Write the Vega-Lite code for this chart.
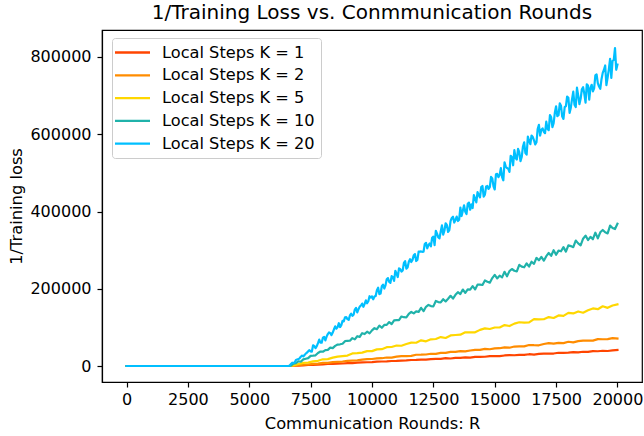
{
"$schema": "https://vega.github.io/schema/vega-lite/v6.json",
"width": 540, "height": 352,
"autosize": "none",
"padding": {"left": 102, "top": 30, "right": 2, "bottom": 54},
"background": "white",
"title": {"text": "1/Training Loss vs. Conmmunication Rounds", "fontSize": 20, "font": "DejaVu Sans", "fontWeight": "normal", "color": "black", "baseline": "alphabetic", "offset": 8, "dy": 17, "anchor": "middle"},
"config": {
  "font": "DejaVu Sans",
  "view": {"stroke": "black", "strokeWidth": 1.2},
  "axis": {"domainColor": "black", "domainWidth": 1.2, "tickColor": "black", "tickWidth": 1.2, "tickSize": 5, "labelColor": "black", "labelFontSize": 16, "labelFont": "DejaVu Sans", "titleFont": "DejaVu Sans", "titleFontSize": 16.3, "titleFontWeight": "normal", "titleColor": "black", "grid": false, "labelOverlap": false, "labelFlush": false}
},
"data": {"values": [
{"k":1,"r":0,"v":0},{"k":1,"r":6600,"v":0},{"k":1,"r":6800,"v":770},{"k":1,"r":7000,"v":1220},{"k":1,"r":7200,"v":1630},{"k":1,"r":7400,"v":2760},{"k":1,"r":7600,"v":3010},{"k":1,"r":7800,"v":3340},{"k":1,"r":8000,"v":4470},{"k":1,"r":8200,"v":5280},{"k":1,"r":8400,"v":5370},{"k":1,"r":8600,"v":6180},{"k":1,"r":8800,"v":6470},{"k":1,"r":9000,"v":7600},{"k":1,"r":9200,"v":7570},{"k":1,"r":9400,"v":8660},{"k":1,"r":9600,"v":9390},{"k":1,"r":9800,"v":9680},{"k":1,"r":10000,"v":10090},{"k":1,"r":10200,"v":11340},{"k":1,"r":10400,"v":11630},{"k":1,"r":10600,"v":12040},{"k":1,"r":10800,"v":12970},{"k":1,"r":11000,"v":13100},{"k":1,"r":11200,"v":14150},{"k":1,"r":11400,"v":14400},{"k":1,"r":11600,"v":15570},{"k":1,"r":11800,"v":15780},{"k":1,"r":12000,"v":16670},{"k":1,"r":12200,"v":16720},{"k":1,"r":12400,"v":17730},{"k":1,"r":12600,"v":18580},{"k":1,"r":12800,"v":18550},{"k":1,"r":13000,"v":20330},{"k":1,"r":13200,"v":19500},{"k":1,"r":13400,"v":20920},{"k":1,"r":13600,"v":21080},{"k":1,"r":13800,"v":22500},{"k":1,"r":14000,"v":21670},{"k":1,"r":14200,"v":23540},{"k":1,"r":14400,"v":23790},{"k":1,"r":14600,"v":23950},{"k":1,"r":14800,"v":25730},{"k":1,"r":15000,"v":25530},{"k":1,"r":15200,"v":25510},{"k":1,"r":15400,"v":27290},{"k":1,"r":15600,"v":28350},{"k":1,"r":15800,"v":27790},{"k":1,"r":16000,"v":28850},{"k":1,"r":16200,"v":28740},{"k":1,"r":16400,"v":30520},{"k":1,"r":16600,"v":29690},{"k":1,"r":16800,"v":31380},{"k":1,"r":17000,"v":32260},{"k":1,"r":17200,"v":32150},{"k":1,"r":17400,"v":32310},{"k":1,"r":17600,"v":34360},{"k":1,"r":17800,"v":34250},{"k":1,"r":18000,"v":34410},{"k":1,"r":18200,"v":35740},{"k":1,"r":18400,"v":35270},{"k":1,"r":18600,"v":36870},{"k":1,"r":18800,"v":36670},{"k":1,"r":19000,"v":38540},{"k":1,"r":19200,"v":38250},{"k":1,"r":19400,"v":39490},{"k":1,"r":19600,"v":38840},{"k":1,"r":19800,"v":40350},{"k":1,"r":20000,"v":41500},
{"k":2,"r":0,"v":0},{"k":2,"r":6600,"v":0},{"k":2,"r":6800,"v":1500},{"k":2,"r":7000,"v":1920},{"k":2,"r":7200,"v":3780},{"k":2,"r":7400,"v":3900},{"k":2,"r":7600,"v":5520},{"k":2,"r":7800,"v":6300},{"k":2,"r":8000,"v":7920},{"k":2,"r":8200,"v":8040},{"k":2,"r":8400,"v":9960},{"k":2,"r":8600,"v":10800},{"k":2,"r":8800,"v":11580},{"k":2,"r":9000,"v":13440},{"k":2,"r":9200,"v":13980},{"k":2,"r":9400,"v":14640},{"k":2,"r":9600,"v":16500},{"k":2,"r":9800,"v":17880},{"k":2,"r":10000,"v":18180},{"k":2,"r":10200,"v":19560},{"k":2,"r":10400,"v":20160},{"k":2,"r":10600,"v":22020},{"k":2,"r":10800,"v":21600},{"k":2,"r":11000,"v":24120},{"k":2,"r":11200,"v":25560},{"k":2,"r":11400,"v":25680},{"k":2,"r":11600,"v":26160},{"k":2,"r":11800,"v":29160},{"k":2,"r":12000,"v":29280},{"k":2,"r":12200,"v":29760},{"k":2,"r":12400,"v":31800},{"k":2,"r":12600,"v":31440},{"k":2,"r":12800,"v":33840},{"k":2,"r":13000,"v":33840},{"k":2,"r":13200,"v":36600},{"k":2,"r":13400,"v":36480},{"k":2,"r":13600,"v":38400},{"k":2,"r":13800,"v":37800},{"k":2,"r":14000,"v":40080},{"k":2,"r":14200,"v":41880},{"k":2,"r":14400,"v":41640},{"k":2,"r":14600,"v":44280},{"k":2,"r":14800,"v":43440},{"k":2,"r":15000,"v":45600},{"k":2,"r":15200,"v":46080},{"k":2,"r":15400,"v":48240},{"k":2,"r":15600,"v":47400},{"k":2,"r":15800,"v":50400},{"k":2,"r":16000,"v":50760},{"k":2,"r":16200,"v":50940},{"k":2,"r":16400,"v":54360},{"k":2,"r":16600,"v":53820},{"k":2,"r":16800,"v":53640},{"k":2,"r":17000,"v":57060},{"k":2,"r":17200,"v":59040},{"k":2,"r":17400,"v":57780},{"k":2,"r":17600,"v":59760},{"k":2,"r":17800,"v":59400},{"k":2,"r":18000,"v":62820},{"k":2,"r":18200,"v":61020},{"k":2,"r":18400,"v":64260},{"k":2,"r":18600,"v":65880},{"k":2,"r":18800,"v":65520},{"k":2,"r":19000,"v":65700},{"k":2,"r":19200,"v":69660},{"k":2,"r":19400,"v":69300},{"k":2,"r":19600,"v":69480},{"k":2,"r":19800,"v":72000},{"k":2,"r":20000,"v":70920},
{"k":5,"r":0,"v":0},{"k":5,"r":6600,"v":0},{"k":5,"r":6800,"v":1400},{"k":5,"r":7000,"v":5320},{"k":5,"r":7200,"v":8280},{"k":5,"r":7400,"v":9080},{"k":5,"r":7600,"v":12040},{"k":5,"r":7800,"v":13440},{"k":5,"r":8000,"v":17360},{"k":5,"r":8200,"v":17800},{"k":5,"r":8400,"v":21600},{"k":5,"r":8600,"v":24320},{"k":5,"r":8800,"v":25560},{"k":5,"r":9000,"v":26920},{"k":5,"r":9200,"v":32480},{"k":5,"r":9400,"v":33240},{"k":5,"r":9600,"v":34600},{"k":5,"r":9800,"v":38560},{"k":5,"r":10000,"v":38520},{"k":5,"r":10200,"v":43080},{"k":5,"r":10400,"v":43640},{"k":5,"r":10600,"v":48800},{"k":5,"r":10800,"v":49160},{"k":5,"r":11000,"v":52920},{"k":5,"r":11200,"v":52480},{"k":5,"r":11400,"v":56840},{"k":5,"r":11600,"v":60400},{"k":5,"r":11800,"v":60160},{"k":5,"r":12000,"v":66420},{"k":5,"r":12200,"v":63980},{"k":5,"r":12400,"v":69040},{"k":5,"r":12600,"v":69900},{"k":5,"r":12800,"v":74960},{"k":5,"r":13000,"v":72520},{"k":5,"r":13200,"v":79080},{"k":5,"r":13400,"v":80240},{"k":5,"r":13600,"v":81100},{"k":5,"r":13800,"v":87360},{"k":5,"r":14000,"v":87020},{"k":5,"r":14200,"v":87280},{"k":5,"r":14400,"v":93540},{"k":5,"r":14600,"v":97400},{"k":5,"r":14800,"v":95860},{"k":5,"r":15000,"v":99720},{"k":5,"r":15200,"v":99680},{"k":5,"r":15400,"v":105940},{"k":5,"r":15600,"v":103500},{"k":5,"r":15800,"v":109760},{"k":5,"r":16000,"v":113320},{"k":5,"r":16200,"v":112480},{"k":5,"r":16400,"v":112840},{"k":5,"r":16600,"v":121600},{"k":5,"r":16800,"v":120760},{"k":5,"r":17000,"v":121120},{"k":5,"r":17200,"v":126680},{"k":5,"r":17400,"v":124240},{"k":5,"r":17600,"v":131000},{"k":5,"r":17800,"v":129760},{"k":5,"r":18000,"v":137720},{"k":5,"r":18200,"v":136080},{"k":5,"r":18400,"v":141240},{"k":5,"r":18600,"v":138000},{"k":5,"r":18800,"v":144360},{"k":5,"r":19000,"v":149120},{"k":5,"r":19200,"v":147080},{"k":5,"r":19400,"v":154640},{"k":5,"r":19600,"v":150600},{"k":5,"r":19800,"v":156560},{"k":5,"r":20000,"v":159700},
{"k":10,"r":0,"v":0},{"k":10,"r":6600,"v":0},{"k":10,"r":6700,"v":950},{"k":10,"r":6800,"v":5900},{"k":10,"r":6900,"v":7350},{"k":10,"r":7000,"v":12300},{"k":10,"r":7100,"v":11000},{"k":10,"r":7200,"v":17200},{"k":10,"r":7300,"v":18900},{"k":10,"r":7400,"v":20350},{"k":10,"r":7500,"v":26300},{"k":10,"r":7600,"v":26750},{"k":10,"r":7700,"v":27700},{"k":10,"r":7800,"v":33650},{"k":10,"r":7900,"v":37600},{"k":10,"r":8000,"v":37050},{"k":10,"r":8100,"v":41000},{"k":10,"r":8200,"v":41700},{"k":10,"r":8300,"v":47650},{"k":10,"r":8400,"v":46350},{"k":10,"r":8500,"v":52050},{"k":10,"r":8600,"v":55500},{"k":10,"r":8700,"v":56200},{"k":10,"r":8800,"v":57650},{"k":10,"r":8900,"v":64350},{"k":10,"r":9000,"v":65300},{"k":10,"r":9100,"v":65500},{"k":10,"r":9200,"v":72200},{"k":10,"r":9300,"v":68900},{"k":10,"r":9400,"v":77100},{"k":10,"r":9500,"v":75300},{"k":10,"r":9600,"v":85000},{"k":10,"r":9700,"v":82700},{"k":10,"r":9800,"v":88900},{"k":10,"r":9900,"v":84600},{"k":10,"r":10000,"v":92300},{"k":10,"r":10100,"v":98000},{"k":10,"r":10200,"v":95200},{"k":10,"r":10300,"v":104400},{"k":10,"r":10400,"v":99100},{"k":10,"r":10500,"v":106300},{"k":10,"r":10600,"v":106500},{"k":10,"r":10700,"v":113700},{"k":10,"r":10800,"v":108400},{"k":10,"r":10900,"v":118100},{"k":10,"r":11000,"v":118800},{"k":10,"r":11100,"v":119000},{"k":10,"r":11200,"v":128200},{"k":10,"r":11300,"v":126400},{"k":10,"r":11400,"v":125600},{"k":10,"r":11500,"v":134800},{"k":10,"r":11600,"v":140000},{"k":10,"r":11700,"v":136200},{"k":10,"r":11800,"v":141400},{"k":10,"r":11900,"v":140100},{"k":10,"r":12000,"v":150700},{"k":10,"r":12100,"v":142200},{"k":10,"r":12200,"v":153300},{"k":10,"r":12300,"v":158100},{"k":10,"r":12400,"v":155200},{"k":10,"r":12500,"v":154400},{"k":10,"r":12600,"v":168300},{"k":10,"r":12700,"v":165400},{"k":10,"r":12800,"v":164600},{"k":10,"r":12900,"v":172900},{"k":10,"r":13000,"v":167200},{"k":10,"r":13100,"v":174100},{"k":10,"r":13200,"v":181700},{"k":10,"r":13300,"v":174600},{"k":10,"r":13400,"v":184300},{"k":10,"r":13500,"v":191200},{"k":10,"r":13600,"v":186200},{"k":10,"r":13700,"v":198000},{"k":10,"r":13800,"v":189500},{"k":10,"r":13900,"v":198500},{"k":10,"r":14000,"v":197700},{"k":10,"r":14100,"v":206700},{"k":10,"r":14200,"v":198200},{"k":10,"r":14300,"v":210700},{"k":10,"r":14400,"v":210600},{"k":10,"r":14500,"v":209800},{"k":10,"r":14600,"v":221600},{"k":10,"r":14700,"v":218000},{"k":10,"r":14800,"v":215800},{"k":10,"r":14900,"v":227600},{"k":10,"r":15000,"v":235800},{"k":10,"r":15100,"v":226800},{"k":10,"r":15200,"v":234000},{"k":10,"r":15300,"v":229500},{"k":10,"r":15400,"v":243900},{"k":10,"r":15500,"v":232200},{"k":10,"r":15600,"v":245700},{"k":10,"r":15700,"v":251100},{"k":10,"r":15800,"v":246600},{"k":10,"r":15900,"v":244800},{"k":10,"r":16000,"v":261900},{"k":10,"r":16100,"v":257400},{"k":10,"r":16200,"v":255600},{"k":10,"r":16300,"v":265500},{"k":10,"r":16400,"v":257400},{"k":10,"r":16500,"v":270000},{"k":10,"r":16600,"v":264600},{"k":10,"r":16700,"v":279900},{"k":10,"r":16800,"v":273600},{"k":10,"r":16900,"v":282600},{"k":10,"r":17000,"v":272700},{"k":10,"r":17100,"v":284400},{"k":10,"r":17200,"v":292500},{"k":10,"r":17300,"v":285300},{"k":10,"r":17400,"v":299700},{"k":10,"r":17500,"v":288000},{"k":10,"r":17600,"v":298800},{"k":10,"r":17700,"v":297000},{"k":10,"r":17800,"v":307800},{"k":10,"r":17900,"v":296100},{"k":10,"r":18000,"v":312200},{"k":10,"r":18100,"v":310500},{"k":10,"r":18200,"v":307700},{"k":10,"r":18300,"v":324700},{"k":10,"r":18400,"v":317500},{"k":10,"r":18500,"v":312500},{"k":10,"r":18600,"v":329500},{"k":10,"r":18700,"v":337700},{"k":10,"r":18800,"v":326100},{"k":10,"r":18900,"v":334300},{"k":10,"r":19000,"v":328200},{"k":10,"r":19100,"v":345200},{"k":10,"r":19200,"v":330300},{"k":10,"r":19300,"v":346200},{"k":10,"r":19400,"v":352200},{"k":10,"r":19500,"v":346100},{"k":10,"r":19600,"v":343300},{"k":10,"r":19700,"v":363600},{"k":10,"r":19800,"v":357500},{"k":10,"r":19900,"v":354700},{"k":10,"r":20000,"v":368400},
{"k":20,"r":0,"v":0},{"k":20,"r":6600,"v":0},{"k":20,"r":6700,"v":5350},{"k":20,"r":6800,"v":7600},{"k":20,"r":6900,"v":15700},{"k":20,"r":7000,"v":17700},{"k":20,"r":7100,"v":24000},{"k":20,"r":7200,"v":25000},{"k":20,"r":7300,"v":32100},{"k":20,"r":7400,"v":38200},{"k":20,"r":7500,"v":37800},{"k":20,"r":7600,"v":53700},{"k":20,"r":7700,"v":46400},{"k":20,"r":7800,"v":59200},{"k":20,"r":7900,"v":60700},{"k":20,"r":8000,"v":73400},{"k":20,"r":8100,"v":66100},{"k":20,"r":8200,"v":82800},{"k":20,"r":8300,"v":85200},{"k":20,"r":8400,"v":86700},{"k":20,"r":8500,"v":102600},{"k":20,"r":8600,"v":100900},{"k":20,"r":8700,"v":100800},{"k":20,"r":8800,"v":116800},{"k":20,"r":8900,"v":126300},{"k":20,"r":9000,"v":121400},{"k":20,"r":9100,"v":130900},{"k":20,"r":9200,"v":130000},{"k":20,"r":9300,"v":146000},{"k":20,"r":9400,"v":138700},{"k":20,"r":9500,"v":153800},{"k":20,"r":9600,"v":161700},{"k":20,"r":9700,"v":160800},{"k":20,"r":9800,"v":162400},{"k":20,"r":9900,"v":180700},{"k":20,"r":10000,"v":180300},{"k":20,"r":10100,"v":179700},{"k":20,"r":10200,"v":196000},{"k":20,"r":10300,"v":186200},{"k":20,"r":10400,"v":206400},{"k":20,"r":10500,"v":200600},{"k":20,"r":10600,"v":224700},{"k":20,"r":10700,"v":217600},{"k":20,"r":10800,"v":232500},{"k":20,"r":10900,"v":220200},{"k":20,"r":11000,"v":239100},{"k":20,"r":11100,"v":252800},{"k":20,"r":11200,"v":244400},{"k":20,"r":11300,"v":267100},{"k":20,"r":11400,"v":252200},{"k":20,"r":11500,"v":269800},{"k":20,"r":11600,"v":269200},{"k":20,"r":11700,"v":286800},{"k":20,"r":11800,"v":271800},{"k":20,"r":11900,"v":295900},{"k":20,"r":12000,"v":296600},{"k":20,"r":12100,"v":296000},{"k":20,"r":12200,"v":318800},{"k":20,"r":12300,"v":312900},{"k":20,"r":12400,"v":309700},{"k":20,"r":12500,"v":335000},{"k":20,"r":12600,"v":350200},{"k":20,"r":12700,"v":333000},{"k":20,"r":12800,"v":348200},{"k":20,"r":12900,"v":340000},{"k":20,"r":13000,"v":369600},{"k":20,"r":13100,"v":347000},{"k":20,"r":13200,"v":374800},{"k":20,"r":13300,"v":386400},{"k":20,"r":13400,"v":378200},{"k":20,"r":13500,"v":375400},{"k":20,"r":13600,"v":410400},{"k":20,"r":13700,"v":402200},{"k":20,"r":13800,"v":399400},{"k":20,"r":13900,"v":420000},{"k":20,"r":14000,"v":404600},{"k":20,"r":14100,"v":409000},{"k":20,"r":14200,"v":433200},{"k":20,"r":14300,"v":450200},{"k":20,"r":14400,"v":436600},{"k":20,"r":14500,"v":466200},{"k":20,"r":14600,"v":443600},{"k":20,"r":14700,"v":466000},{"k":20,"r":14800,"v":463200},{"k":20,"r":14900,"v":485600},{"k":20,"r":15000,"v":457000},{"k":20,"r":15100,"v":497400},{"k":20,"r":15200,"v":494500},{"k":20,"r":15300,"v":489300},{"k":20,"r":15400,"v":527200},{"k":20,"r":15500,"v":512400},{"k":20,"r":15600,"v":502400},{"k":20,"r":15700,"v":540300},{"k":20,"r":15800,"v":559100},{"k":20,"r":15900,"v":534600},{"k":20,"r":16000,"v":553400},{"k":20,"r":16100,"v":541000},{"k":20,"r":16200,"v":578900},{"k":20,"r":16300,"v":547300},{"k":20,"r":16400,"v":582800},{"k":20,"r":16500,"v":596800},{"k":20,"r":16600,"v":584400},{"k":20,"r":16700,"v":579100},{"k":20,"r":16800,"v":624300},{"k":20,"r":16900,"v":611800},{"k":20,"r":17000,"v":606600},{"k":20,"r":17100,"v":632600},{"k":20,"r":17200,"v":610500},{"k":20,"r":17300,"v":643700},{"k":20,"r":17400,"v":628800},{"k":20,"r":17500,"v":672400},{"k":20,"r":17600,"v":649400},{"k":20,"r":17700,"v":674000},{"k":20,"r":17800,"v":639800},{"k":20,"r":17900,"v":672800},{"k":20,"r":18000,"v":694600},{"k":20,"r":18100,"v":668800},{"k":20,"r":18200,"v":710200},{"k":20,"r":18300,"v":670400},{"k":20,"r":18400,"v":700600},{"k":20,"r":18500,"v":691600},{"k":20,"r":18600,"v":721800},{"k":20,"r":18700,"v":682000},{"k":20,"r":18800,"v":726200},{"k":20,"r":18900,"v":720000},{"k":20,"r":19000,"v":711000},{"k":20,"r":19100,"v":752400},{"k":20,"r":19200,"v":732200},{"k":20,"r":19300,"v":717600},{"k":20,"r":19400,"v":759000},{"k":20,"r":19500,"v":778000},{"k":20,"r":19600,"v":746600},{"k":20,"r":19700,"v":795000},{"k":20,"r":19800,"v":790200},{"k":20,"r":19900,"v":823000},{"k":20,"r":20000,"v":780600},
{"k":20,"r":6650,"v":1030},{"k":20,"r":6750,"v":8630},{"k":20,"r":6850,"v":9130},{"k":20,"r":6950,"v":16980},{"k":20,"r":7050,"v":19980},{"k":20,"r":7150,"v":27080},{"k":20,"r":7250,"v":28080},{"k":20,"r":7350,"v":34430},{"k":20,"r":7450,"v":40930},{"k":20,"r":7550,"v":37360},{"k":20,"r":7650,"v":51660},{"k":20,"r":7750,"v":51560},{"k":20,"r":7850,"v":68360},{"k":20,"r":7950,"v":60260},{"k":20,"r":8050,"v":75360},{"k":20,"r":8150,"v":76060},{"k":20,"r":8250,"v":87160},{"k":20,"r":8350,"v":79960},{"k":20,"r":8450,"v":95060},{"k":20,"r":8550,"v":96560},{"k":20,"r":8650,"v":110860},{"k":20,"r":8750,"v":105960},{"k":20,"r":8850,"v":115560},{"k":20,"r":8950,"v":126660},{"k":20,"r":9050,"v":119360},{"k":20,"r":9150,"v":135260},{"k":20,"r":9250,"v":132760},{"k":20,"r":9350,"v":150360},{"k":20,"r":9450,"v":147060},{"k":20,"r":9550,"v":156560},{"k":20,"r":9650,"v":153260},{"k":20,"r":9750,"v":169960},{"k":20,"r":9850,"v":167560},{"k":20,"r":9950,"v":177060},{"k":20,"r":10050,"v":172840},{"k":20,"r":10150,"v":181340},{"k":20,"r":10250,"v":202840},{"k":20,"r":10350,"v":187840},{"k":20,"r":10450,"v":210640},{"k":20,"r":10550,"v":208740},{"k":20,"r":10650,"v":227640},{"k":20,"r":10750,"v":215340},{"k":20,"r":10850,"v":230240},{"k":20,"r":10950,"v":246540},{"k":20,"r":11050,"v":230340},{"k":20,"r":11150,"v":250540},{"k":20,"r":11250,"v":247340},{"k":20,"r":11350,"v":271340},{"k":20,"r":11450,"v":255140},{"k":20,"r":11550,"v":276640},{"k":20,"r":11650,"v":274740},{"k":20,"r":11750,"v":289740},{"k":20,"r":11850,"v":274740},{"k":20,"r":11950,"v":296240},{"k":20,"r":12050,"v":295640},{"k":20,"r":12150,"v":315840},{"k":20,"r":12250,"v":304840},{"k":20,"r":12350,"v":317140},{"k":20,"r":12450,"v":332140},{"k":20,"r":12550,"v":312900},{"k":20,"r":12650,"v":342500},{"k":20,"r":12750,"v":330700},{"k":20,"r":12850,"v":363900},{"k":20,"r":12950,"v":350300},{"k":20,"r":13050,"v":365500},{"k":20,"r":13150,"v":351900},{"k":20,"r":13250,"v":383300},{"k":20,"r":13350,"v":371500},{"k":20,"r":13450,"v":386700},{"k":20,"r":13550,"v":378500},{"k":20,"r":13650,"v":388300},{"k":20,"r":13750,"v":416100},{"k":20,"r":13850,"v":393500},{"k":20,"r":13950,"v":423100},{"k":20,"r":14050,"v":418500},{"k":20,"r":14150,"v":442700},{"k":20,"r":14250,"v":423700},{"k":20,"r":14350,"v":442500},{"k":20,"r":14450,"v":463100},{"k":20,"r":14550,"v":438700},{"k":20,"r":14650,"v":464700},{"k":20,"r":14750,"v":458300},{"k":20,"r":14850,"v":489700},{"k":20,"r":14950,"v":465300},{"k":20,"r":15050,"v":496380},{"k":20,"r":15150,"v":488780},{"k":20,"r":15250,"v":512280},{"k":20,"r":15350,"v":480680},{"k":20,"r":15450,"v":516180},{"k":20,"r":15550,"v":510980},{"k":20,"r":15650,"v":544180},{"k":20,"r":15750,"v":519680},{"k":20,"r":15850,"v":538480},{"k":20,"r":15950,"v":561980},{"k":20,"r":16050,"v":530380},{"k":20,"r":16150,"v":568380},{"k":20,"r":16250,"v":551080},{"k":20,"r":16350,"v":593880},{"k":20,"r":16450,"v":574180},{"k":20,"r":16550,"v":592980},{"k":20,"r":16650,"v":573380},{"k":20,"r":16750,"v":613680},{"k":20,"r":16850,"v":596480},{"k":20,"r":16950,"v":615180},{"k":20,"r":17050,"v":602780},{"k":20,"r":17150,"v":614380},{"k":20,"r":17250,"v":649880},{"k":20,"r":17350,"v":618280},{"k":20,"r":17450,"v":656180},{"k":20,"r":17550,"v":646900},{"k":20,"r":17650,"v":679900},{"k":20,"r":17750,"v":645700},{"k":20,"r":17850,"v":670300},{"k":20,"r":17950,"v":697700},{"k":20,"r":18050,"v":655100},{"k":20,"r":18150,"v":690900},{"k":20,"r":18250,"v":676300},{"k":20,"r":18350,"v":720500},{"k":20,"r":18450,"v":677900},{"k":20,"r":18550,"v":716500},{"k":20,"r":18650,"v":704700},{"k":20,"r":18750,"v":729300},{"k":20,"r":18850,"v":689500},{"k":20,"r":18950,"v":728100},{"k":20,"r":19050,"v":719100},{"k":20,"r":19150,"v":754900},{"k":20,"r":19250,"v":723500},{"k":20,"r":19350,"v":742500},{"k":20,"r":19450,"v":767100},{"k":20,"r":19550,"v":727300},{"k":20,"r":19650,"v":768700},{"k":20,"r":19750,"v":745700},{"k":20,"r":19850,"v":792700},{"k":20,"r":19950,"v":766900}
]},
"mark": {"type": "line", "strokeWidth": 2.2, "strokeJoin": "round", "strokeCap": "square"},
"encoding": {
  "x": {"field": "r", "type": "quantitative", "scale": {"domain": [-1000, 21000], "nice": false, "zero": false},
        "axis": {"values": [0, 2500, 5000, 7500, 10000, 12500, 15000, 17500, 20000], "format": "d", "title": "Communication Rounds: R", "labelPadding": 4, "titleY": 46, "titleBaseline": "alphabetic"}},
  "y": {"field": "v", "type": "quantitative", "scale": {"domain": [-41400, 869900], "nice": false, "zero": false},
        "axis": {"values": [0, 200000, 400000, 600000, 800000], "format": "d", "title": "1/Training loss", "labelPadding": 6, "titleX": -81, "titleY": 176, "titleAngle": -90, "titleAlign": "center", "titleBaseline": "alphabetic"}},
  "color": {"field": "k", "type": "nominal", "sort": [1, 2, 5, 10, 20],
    "scale": {"domain": [1, 2, 5, 10, 20], "range": ["#ff4500", "#ff8c00", "#ffd700", "#20b2aa", "#00bfff"]},
    "legend": {"title": null, "orient": "none", "legendX": 10, "legendY": 8, "labelExpr": "'Local Steps K = ' + datum.label", "labelFontSize": 16.2, "labelFont": "DejaVu Sans", "labelColor": "black", "symbolType": "M-2.5,0H2.5", "symbolSize": 196, "symbolStrokeWidth": 2.3, "symbolOffset": 6, "labelOffset": 21, "rowPadding": 5.8, "padding": 6, "strokeColor": "#cccccc", "fillColor": "white", "cornerRadius": 3, "labelLimit": 300}}
}
}
